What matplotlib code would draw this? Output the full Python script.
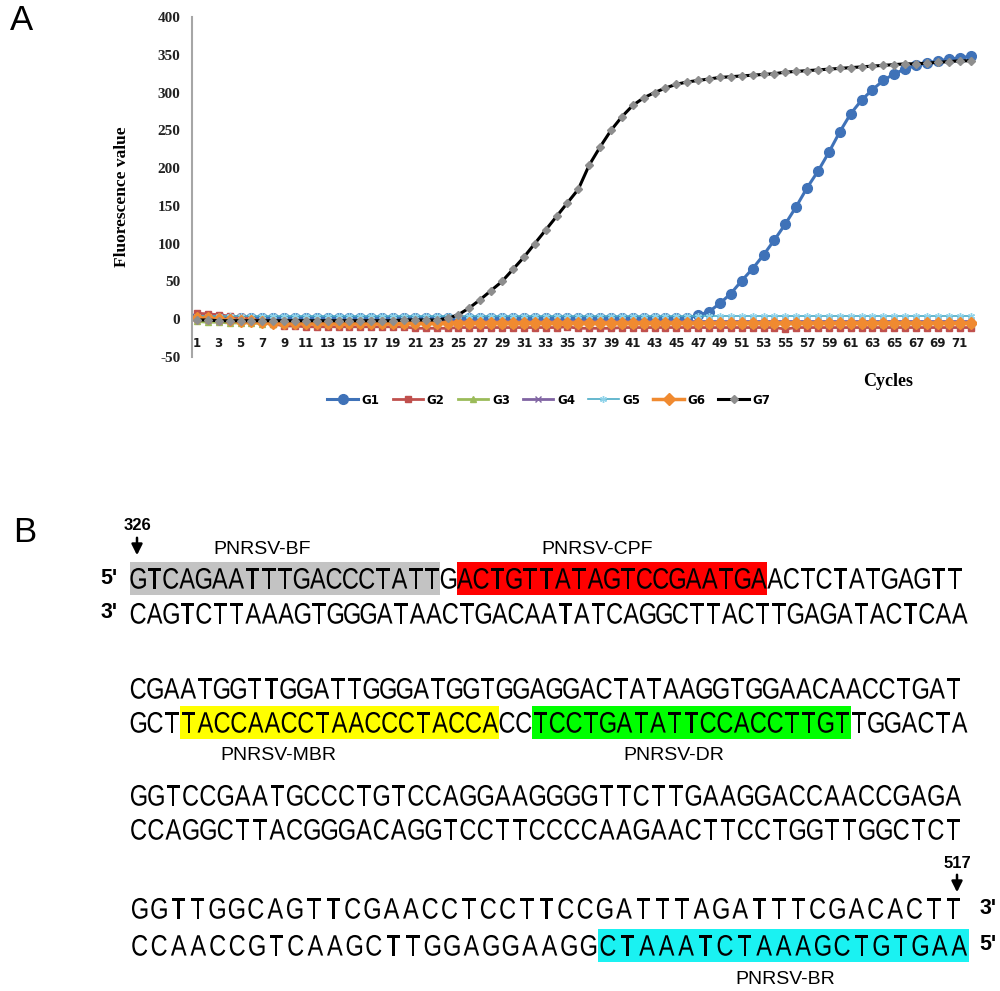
import matplotlib
matplotlib.use("Agg")
import matplotlib.pyplot as plt
from matplotlib.patches import Rectangle, PathPatch
from matplotlib.textpath import TextPath
from matplotlib.font_manager import FontProperties
from matplotlib.transforms import Affine2D

# ---------------- data: panel A ----------------
cycles = list(range(1, 73))
series_names = ["G1", "G2", "G3", "G4", "G5", "G6", "G7"]

g1 = [3, 3, 3, 2, 2, 2, 2, 2, 2, 2,
      2, 2, 2, 2, 2, 2, 2, 2, 2, 2,
      2, 2, 2, 2, 2, 2, 2, 2, 2, 2,
      2, 2, 2, 2, 2, 2, 2, 2, 2, 2,
      2, 2, 2, 2, 2, 2, 5, 10, 21, 34,
      51, 67, 85, 105, 126, 149, 174, 196, 221, 248,
      272, 290, 304, 316, 325, 331, 336, 339, 342, 344,
      346, 348]
g2 = [8, 7, 6, 4, 3, 1, -4, -6, -9, -9,
      -10, -10, -10, -10, -10, -10, -10, -10, -10, -10,
      -12, -12, -12, -12, -11, -11, -11, -11, -11, -11,
      -11, -11, -11, -11, -10, -12, -12, -12, -12, -11,
      -11, -11, -11, -11, -11, -11, -11, -11, -11, -11,
      -11, -11, -11, -11, -13, -11, -11, -11, -11, -11,
      -11, -11, -11, -11, -11, -11, -11, -11, -11, -11,
      -11, -11]
g3 = [-3, -4, -4, -5, -5, -5, -6, -6, -6, -6,
      -6, -6, -6, -6, -6, -6, -6, -6, -6, -6,
      -6, -6, -6, -6, -6, -6, -6, -6, -6, -6,
      -6, -6, -6, -6, -6, -6, -6, -6, -6, -6,
      -6, -6, -6, -6, -6, -6, -6, -6, -6, -6,
      -6, -6, -6, -6, -6, -6, -6, -6, -6, -6,
      -6, -6, -6, -6, -6, -6, -6, -6, -6, -6,
      -6, -6]
g4 = [0, -1, -2, -2, -3, -3, -3, -3, -3, -3,
      -3, -3, -3, -3, -3, -3, -3, -3, -3, -3,
      -3, -3, -3, -3, -3, -3, -3, -3, -3, -3,
      -3, -3, -3, -3, -3, -3, -3, -3, -3, -3,
      -3, -3, -3, -3, -3, -3, -3, -3, -3, -3,
      -3, -3, -3, -3, -3, -3, -3, -3, -3, -3,
      -3, -3, -3, -3, -3, -3, -3, -3, -3, -3,
      -3, -3]
g5 = [4, 4, 4, 4, 4, 4, 4, 4, 4, 4,
      4, 4, 4, 4, 4, 4, 4, 4, 4, 4,
      4, 4, 4, 4, 4, 4, 4, 4, 4, 4,
      4, 4, 4, 4, 4, 4, 4, 4, 4, 4,
      4, 4, 4, 4, 4, 4, 4, 4, 4, 4,
      4, 4, 4, 4, 4, 4, 4, 4, 4, 4,
      4, 4, 4, 4, 4, 4, 4, 4, 4, 4,
      4, 4]
g6 = [2, 1, 0, -1, -2, -3, -4, -5, -5, -5,
      -5, -5, -5, -5, -5, -5, -5, -5, -5, -5,
      -5, -5, -5, -5, -5, -5, -5, -5, -5, -5,
      -5, -5, -5, -5, -5, -5, -5, -5, -5, -5,
      -5, -5, -5, -5, -5, -5, -5, -5, -5, -5,
      -5, -5, -5, -5, -5, -5, -5, -5, -5, -5,
      -5, -5, -5, -5, -5, -5, -5, -5, -5, -5,
      -5, -5]
g7 = [-1, -1, -2, -2, -2, -2, -2, -2, -2, -2,
      -2, -2, -2, -2, -2, -2, -2, -2, -2, -1,
      -1, -1, -1, 1, 6, 15, 26, 38, 50, 66,
      82, 100, 118, 136, 154, 172, 204, 228, 250, 268,
      283, 293, 300, 306, 311, 314, 316, 318, 320, 321,
      322, 323, 324, 325, 327, 328, 329, 330, 331, 332,
      333, 334, 335, 336, 337, 338, 338, 339, 340, 341,
      342, 342]
y_ticks = [-50, 0, 50, 100, 150, 200, 250, 300, 350, 400]
x_tick_labels = [str(c) for c in cycles if c % 2 == 1]

# ---------------- data: panel B ----------------
top_strands = [
    "GTCAGAATTTGACCCTATTGACTGTTATAGTCCGAATGAACTCTATGAGTT",
    "CGAATGGTTGGATTGGGATGGTGGAGGACTATAAGGTGGAACAACCTGAT",
    "GGTCCGAATGCCCTGTCCAGGAAGGGGTTCTTGAAGGACCAACCGAGA",
    "GGTTGGCAGTTCGAACCTCCTTCCGATTTAGATTTCGACACTT",
]
bottom_strands = [
    "CAGTCTTAAAGTGGGATAACTGACAATATCAGGCTTACTTGAGATACTCAA",
    "GCTTACCAACCTAACCCTACCACCTCCTGATATTCCACCTTGTTGGACTA",
    "CCAGGCTTACGGGACAGGTCCTTCCCCAAGAACTTCCTGGTTGGCTCT",
    "CCAACCGTCAAGCTTGGAGGAAGGCTAAATCTAAAGCTGTGAA",
]
primer_names = ["PNRSV-BF", "PNRSV-CPF", "PNRSV-MBR", "PNRSV-DR", "PNRSV-BR"]
primer_block = [0, 0, 1, 1, 3]
primer_strand = ["top", "top", "bottom", "bottom", "bottom"]
primer_start = [0, 20, 3, 24, 24]
primer_length = [19, 19, 19, 19, 19]
primer_colors = ["#C3C3C3", "#FF0000", "#FFFF00", "#00FF00", "#1AF2F2"]
position_marks = ["326", "517"]

# ---------------- figure ----------------
W, H = 1000, 991
fig = plt.figure(figsize=(W / 100, H / 100), dpi=100)


def fx(px):
    return px / W


def fy(py):
    return 1 - py / H


ax = fig.add_axes([fx(191.5), fy(357), (976 - 191.5) / W, (357 - 17) / H])
ax.set_xlim(0.5, 72.5)
ax.set_ylim(-50, 400)

styles = [
    dict(color="#3F72B8", marker="o", ms=7, mfc="#3F72B8", mec="#3F72B8", lw=2.2),
    dict(color="#C0504D", marker="s", ms=4.5, mfc="#C0504D", mec="#C0504D", lw=2.0),
    dict(color="#9BBB59", marker="^", ms=4.5, mfc="#9BBB59", mec="#9BBB59", lw=2.0),
    dict(color="#8064A2", marker="x", ms=4.5, mfc="#8064A2", mec="#8064A2", lw=2.0),
    dict(color="#4BACC6", marker=(6, 2, 0), ms=5, mfc="#8FD3EA", mec="#8FD3EA", lw=1.2),
    dict(color="#F08A30", marker="D", ms=6, mfc="#F08A30", mec="#F08A30", lw=2.5),
    dict(color="#000000", marker="D", ms=4.5, mfc="#8E8E8E", mec="#8E8E8E", lw=2.2),
]
all_series = [g1, g2, g3, g4, g5, g6, g7]
lines = []
for name, vals, st in zip(series_names, all_series, styles):
    ln, = ax.plot(cycles, vals, label=name, **st)
    lines.append(ln)

for s in ["top", "right", "bottom"]:
    ax.spines[s].set_visible(False)
ax.spines["left"].set_color("#A6A6A6")
ax.spines["left"].set_linewidth(1.5)
ax.spines["bottom"].set_position(("data", 0))

ax.set_yticks(y_ticks)
ax.set_yticklabels([str(v) for v in y_ticks], family="Liberation Serif",
                   fontsize=11, color="#222222", fontweight="bold")
ax.tick_params(axis="y", length=0, pad=8)
ax.set_xticks([c for c in cycles if c % 2 == 1])
ax.set_xticklabels(x_tick_labels, family="DejaVu Sans", fontsize=8.5,
                   color="#1a1a1a", fontweight="bold")
ax.tick_params(axis="x", length=0, pad=12.5)
ax.patch.set_alpha(0)

fig.text(fx(122), fy(197), "Fluorescence value", rotation=90, ha="center",
         va="center", family="Liberation Serif", fontweight="bold", fontsize=12.5)
fig.text(fx(888), fy(382), "Cycles", ha="center", va="center",
         family="Liberation Serif", fontweight="bold", fontsize=13)
fig.text(fx(22), fy(20), "A", ha="center", va="center",
         family="Liberation Sans", fontsize=25)
fig.text(fx(25), fy(532), "B", ha="center", va="center",
         family="Liberation Sans", fontsize=25)

fig.legend(handles=lines, labels=series_names, loc="center", ncol=7,
           bbox_to_anchor=(fx(549), fy(400)), bbox_transform=fig.transFigure,
           frameon=False, prop=dict(family="DejaVu Sans", size=8.5, weight="bold"),
           handlelength=2.6, columnspacing=1.1, handletextpad=0.3)

# ---------------- panel B ----------------
axo = fig.add_axes([0, 0, 1, 1])
axo.set_xlim(0, W)
axo.set_ylim(H, 0)
axo.axis("off")

GLYPH_SIZE = 29.5      # em size in pixels
GLYPH_SX = 0.8         # horizontal condensing (narrow look)
cap_px = 0.716 * GLYPH_SIZE
fp_seq = FontProperties(family="Liberation Sans")

x_left = 130
y_top = [578, 688, 795, 908]
y_bot = [613, 722, 829, 945]
x_right_top = [963, 962, 962, 963]
x_right_bot = [968, 968, 962, 969]
box_half = 16.5


def row_geom(block, strand):
    if strand == "top":
        s = top_strands[block]
        return s, y_top[block], (x_right_top[block] - x_left) / len(s)
    s = bottom_strands[block]
    return s, y_bot[block], (x_right_bot[block] - x_left) / len(s)


_cache = {}


def draw_glyph(ch, xc, ybase):
    if ch not in _cache:
        tp = TextPath((0, 0), ch, size=GLYPH_SIZE, prop=fp_seq)
        ext = tp.get_extents()
        _cache[ch] = (tp, (ext.x0 + ext.x1) / 2)
    tp, cx = _cache[ch]
    tr = Affine2D().translate(-cx, 0).scale(GLYPH_SX, -1).translate(xc, ybase)
    axo.add_patch(PathPatch(tr.transform_path(tp), facecolor="black",
                            edgecolor="none", lw=0, zorder=2))


# highlight boxes
for i in range(len(primer_names)):
    s, yc, pitch = row_geom(primer_block[i], primer_strand[i])
    x0 = x_left + primer_start[i] * pitch
    w = primer_length[i] * pitch
    axo.add_patch(Rectangle((x0, yc - box_half), w, 2 * box_half,
                            facecolor=primer_colors[i], edgecolor="none", zorder=1))

# sequence letters
for b in range(4):
    for strand in ["top", "bottom"]:
        s, yc, pitch = row_geom(b, strand)
        for k, ch in enumerate(s):
            draw_glyph(ch, x_left + (k + 0.5) * pitch, yc + cap_px / 2)

# strand end labels
end_kw = dict(ha="center", va="center", family="Liberation Sans", fontsize=15.5,
              fontweight="bold")
axo.text(109, y_top[0], "5'", **end_kw)
axo.text(109, y_bot[0], "3'", **end_kw)
axo.text(988, y_top[3], "3'", **end_kw)
axo.text(988, y_bot[3], "5'", **end_kw)

# primer name labels
label_x = [262, 597, 278, 674, 785]
label_y = [549, 549, 756, 756, 980]
for i, nm in enumerate(primer_names):
    axo.text(label_x[i], label_y[i], nm, ha="center", va="center",
             family="Liberation Sans", fontsize=14)

# position marks with arrows
mark_x = [137, 957]
mark_y = [526, 863]
for i, m in enumerate(position_marks):
    axo.text(mark_x[i], mark_y[i], m, ha="center", va="center",
             family="Liberation Sans", fontsize=12, fontweight="bold")
    axo.annotate("", xy=(mark_x[i], mark_y[i] + 32), xytext=(mark_x[i], mark_y[i] + 9),
                 arrowprops=dict(arrowstyle="-|>", color="black", lw=1.8,
                                 mutation_scale=16))

fig.savefig("out.png", dpi=100)
